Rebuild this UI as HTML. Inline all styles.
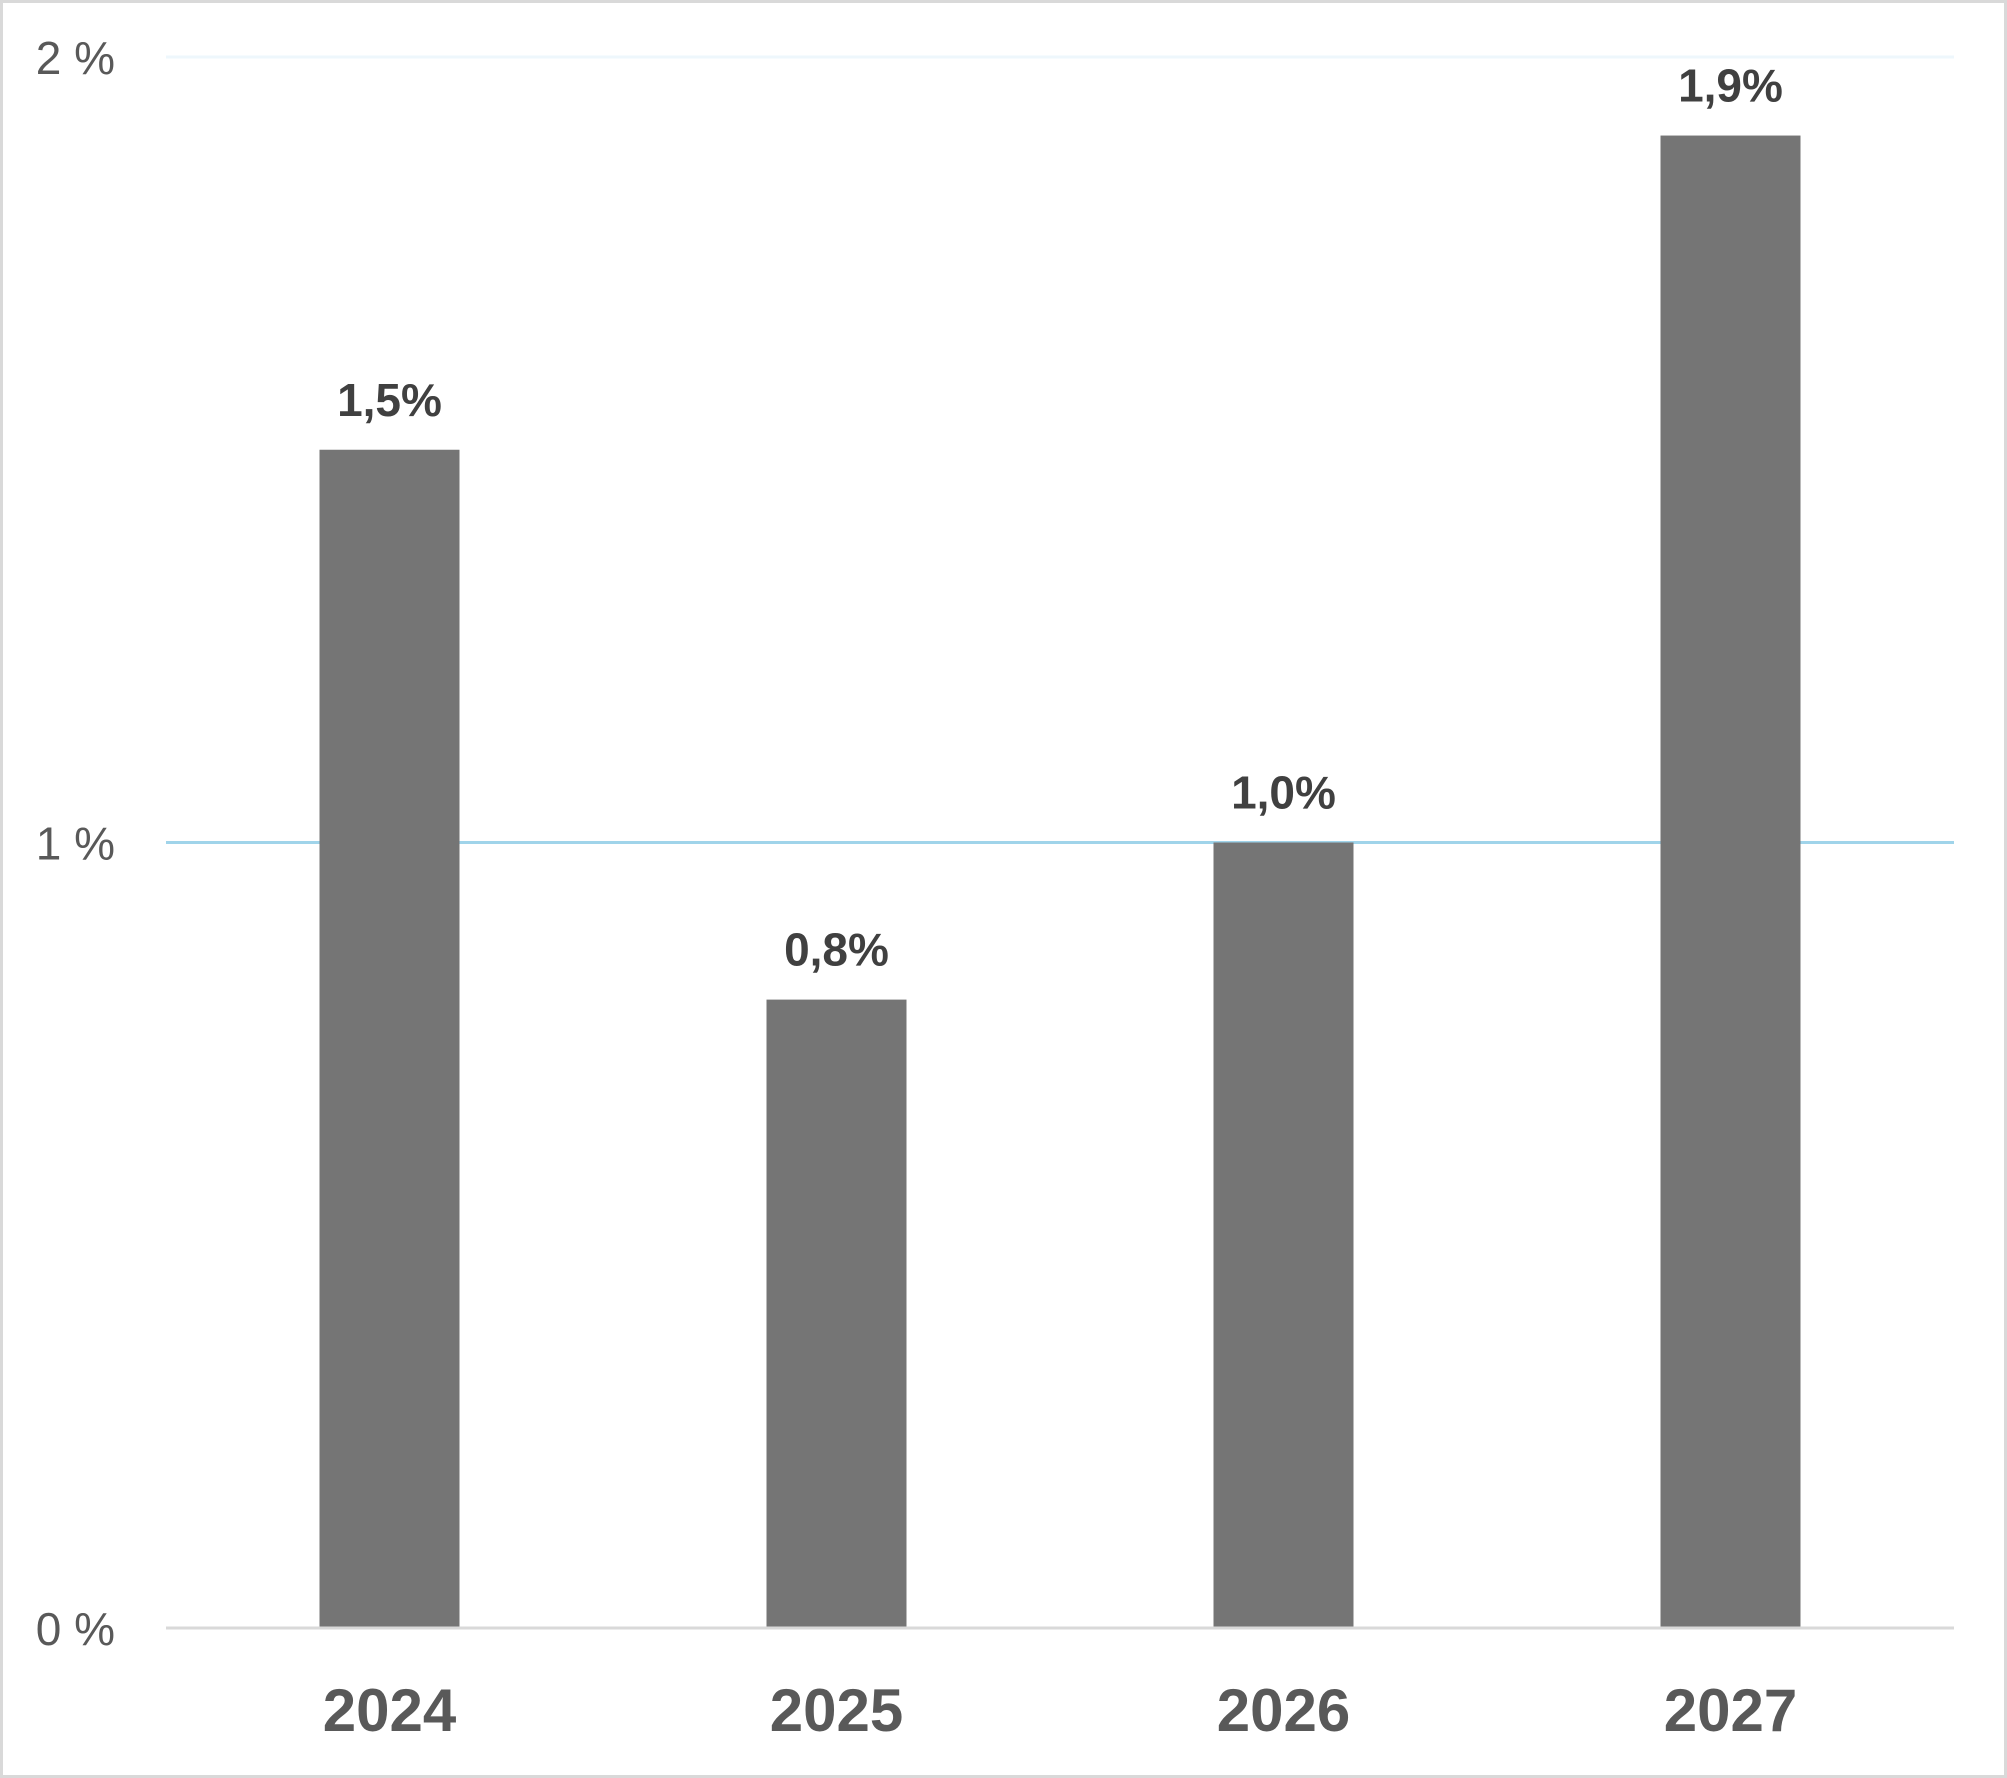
<!DOCTYPE html>
<html><head><meta charset="utf-8"><style>
html,body{margin:0;padding:0;background:#fff;}
svg{display:block;font-family:"Liberation Sans",Arial,sans-serif;}
</style></head><body>
<svg id="chart" width="2007" height="1778" viewBox="0 0 2007 1778" xmlns="http://www.w3.org/2000/svg">
<rect x="1.5" y="1.5" width="2004" height="1775" fill="#fff" stroke="#d9d9d9" stroke-width="3"/>
<g id="grid"></g>
<g id="yticks"></g>
<g id="bars"></g>
<g id="labels"></g>
<g id="xlabels"></g>
</svg>
<script>
const categories = ["2024","2025","2026","2027"];
const values = [1.5, 0.8, 1.0, 1.9];
const valueLabels = ["1,5%","0,8%","1,0%","1,9%"];
const yTicks = [0, 1, 2];
const yTickLabels = ["0 %","1 %","2 %"];

const NS = "http://www.w3.org/2000/svg";
const plotL = 166, plotR = 1954, y0 = 1628, yTop = 57, yMax = 2;
const band = (plotR - plotL) / categories.length;
const barW = 140;
function yScale(v){ return y0 - (v / yMax) * (y0 - yTop); }
function xCenter(i){ return plotL + band * (i + 0.5); }
function mk(tag, attrs, parent){
  const el = document.createElementNS(NS, tag);
  for (const k in attrs) el.setAttribute(k, attrs[k]);
  parent.appendChild(el);
  return el;
}
const grid = document.getElementById('grid');
const yt = document.getElementById('yticks');
yTicks.forEach((t, i) => {
  const y = yScale(t);
  const color = t === 0 ? "#d9d9d9" : (t === 1 ? "#a0d4ea" : "#eef7fc");
  const ln = mk('line', {x1: plotL, x2: plotR, y1: y, y2: y, stroke: color, 'stroke-width': 3}, grid);
  
  
  const tx = mk('text', {x: 115, y: y + 17, 'text-anchor': 'end', 'font-size': 46, fill: '#595959'}, yt);
  tx.textContent = yTickLabels[i];
  
  
});
const bars = document.getElementById('bars');
const labels = document.getElementById('labels');
const xl = document.getElementById('xlabels');
categories.forEach((c, i) => {
  const cx = xCenter(i);
  const yt2 = yScale(values[i]);
  const r = mk('rect', {x: cx - barW / 2, y: yt2, width: barW, height: y0 - yt2 - 1.5, fill: '#757575'}, bars);
  
  
  const vl = mk('text', {x: cx, y: yt2 - 34, 'text-anchor': 'middle', 'font-size': 46, 'font-weight': 'bold', fill: '#404040'}, labels);
  vl.textContent = valueLabels[i];
  
  
  const xt = mk('text', {x: cx, y: 1731, 'text-anchor': 'middle', 'font-size': 60, 'font-weight': 'bold', fill: '#595959'}, xl);
  xt.textContent = c;
  
  
});
</script>
</body></html>
